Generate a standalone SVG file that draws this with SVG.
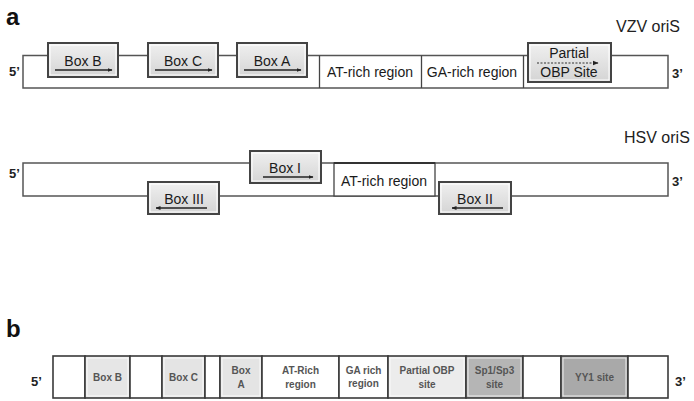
<svg xmlns="http://www.w3.org/2000/svg" width="694" height="401" viewBox="0 0 694 401">
<defs>
<linearGradient id="boxg" x1="0" y1="0" x2="0" y2="1">
<stop offset="0" stop-color="#f0f0f0"/>
<stop offset="1" stop-color="#d4d4d4"/>
</linearGradient>
<marker id="ah" viewBox="0 0 10 10" refX="9" refY="5" markerWidth="5" markerHeight="5" orient="auto-start-reverse" markerUnits="userSpaceOnUse">
<path d="M0,1 L10,5 L0,9 z" fill="#222"/>
</marker>
<marker id="ahs" viewBox="0 0 10 10" refX="9" refY="5" markerWidth="6" markerHeight="6" orient="auto" markerUnits="userSpaceOnUse">
<path d="M0,1 L10,5 L0,9 z" fill="#222"/>
</marker>
</defs>
<style>
.strip{fill:#fff;stroke:#555;stroke-width:1.5}
.box{fill:url(#boxg);stroke:#444;stroke-width:2}
.hl{fill:none;stroke:#fff;stroke-width:1}
.sh{fill:none;stroke:#999;stroke-width:1}
.t{font-family:"Liberation Sans",Arial,sans-serif;font-size:14px;fill:#1a1a1a;text-anchor:middle}
.lab{font-family:"Liberation Sans",Arial,sans-serif;font-size:16px;fill:#222}
.end{font-family:"Liberation Sans",Arial,sans-serif;font-size:13px;font-weight:bold;fill:#222}
.big{font-family:"Liberation Sans",Arial,sans-serif;font-size:24px;font-weight:bold;fill:#111}
.arr{stroke:#222;stroke-width:1.3;fill:none}
.cell{stroke:#3a3a3a;stroke-width:1.6}
.bev{fill:none;stroke:#fff;stroke-width:1;opacity:0.8}
.bt{font-family:"Liberation Sans",Arial,sans-serif;font-size:10px;font-weight:bold;fill:#555;text-anchor:middle}
</style>
<rect width="694" height="401" fill="#fff"/>

<!-- Panel labels -->
<text class="big" x="6" y="25">a</text>
<text class="big" x="6" y="337">b</text>

<!-- VZV oriS -->
<g id="vzv-strip">
<rect class="strip" x="23" y="55.5" width="645" height="32.5"/>
<text class="end" x="9" y="76">5’</text>
<text class="end" x="672" y="78">3’</text>
<text class="lab" x="616" y="32">VZV oriS</text>
</g>
<g id="vzv-boxB">
<rect class="box" x="48" y="43" width="70" height="34"/>
<rect class="hl" x="50" y="45" width="66" height="30"/>
<text class="t" x="83" y="66">Box B</text>
</g>
<g id="vzv-boxC">
<rect class="box" x="148" y="43" width="70" height="34"/>
<rect class="hl" x="150" y="45" width="66" height="30"/>
<text class="t" x="183" y="66">Box C</text>
</g>
<g id="vzv-boxA">
<rect class="box" x="237" y="43" width="70" height="34"/>
<rect class="hl" x="239" y="45" width="66" height="30"/>
<text class="t" x="272" y="66">Box A</text>
</g>
<g id="vzv-at">
<line x1="319.5" y1="55.5" x2="319.5" y2="88" stroke="#444" stroke-width="1.3"/>
<text class="t" x="370" y="77">AT-rich region</text>
</g>
<g id="vzv-ga">
<line x1="421.5" y1="55.5" x2="421.5" y2="88" stroke="#444" stroke-width="1.3"/>
<line x1="523.5" y1="55.5" x2="523.5" y2="88" stroke="#444" stroke-width="1.3"/>
<text class="t" x="472" y="77">GA-rich region</text>
</g>
<g id="vzv-obp">
<rect class="box" x="528" y="43" width="83" height="39"/>
<rect class="hl" x="530" y="45" width="79" height="35"/>
<text class="t" x="569" y="58">Partial</text>
<text class="t" x="569" y="77">OBP Site</text>
</g>

<!-- HSV oriS -->
<g id="hsv-strip">
<rect class="strip" x="23" y="163" width="645" height="33"/>
<text class="end" x="9" y="178">5’</text>
<text class="end" x="672" y="186">3’</text>
<text class="lab" x="624" y="143">HSV oriS</text>
</g>
<g id="hsv-at">
<rect x="334" y="163" width="101" height="33" fill="#fff" stroke="#444" stroke-width="1.3"/>
<line x1="334" y1="163" x2="435" y2="163" stroke="#333" stroke-width="2"/>
<text class="t" x="384" y="186">AT-rich region</text>
</g>
<g id="hsv-boxI">
<rect class="box" x="250" y="151" width="71" height="32"/>
<rect class="hl" x="252" y="153" width="67" height="28"/>
<text class="t" x="285" y="173">Box I</text>
</g>
<g id="hsv-boxIII">
<rect class="box" x="148" y="182" width="71" height="32"/>
<rect class="hl" x="150" y="184" width="67" height="28"/>
<text class="t" x="184" y="204">Box III</text>
</g>
<g id="hsv-boxII">
<rect class="box" x="439" y="182" width="72" height="32"/>
<rect class="hl" x="441" y="184" width="68" height="28"/>
<text class="t" x="475" y="204">Box II</text>
</g>

<!-- Direction arrows -->
<g id="connectors">
<line class="arr" x1="55" y1="70" x2="112" y2="70" marker-end="url(#ah)"/>
<line class="arr" x1="155" y1="70" x2="212" y2="70" marker-end="url(#ah)"/>
<line class="arr" x1="244" y1="70" x2="301" y2="70" marker-end="url(#ah)"/>
<line x1="537" y1="63" x2="598" y2="63" stroke="#333" stroke-width="1" stroke-dasharray="2,1.5" marker-end="url(#ahs)"/>
<line class="arr" x1="263" y1="177" x2="313" y2="177" marker-end="url(#ah)"/>
<line class="arr" x1="207" y1="208" x2="156" y2="208" marker-end="url(#ah)"/>
<line class="arr" x1="503" y1="208" x2="452" y2="208" marker-end="url(#ah)"/>
</g>

<!-- Panel b -->
<g id="b-ends">
<text class="end" x="31" y="386" font-size="14">5’</text>
<text class="end" x="675" y="386" font-size="14">3’</text>
</g>
<g id="b-c1"><rect class="cell" x="53" y="356" width="32" height="42" fill="#fff"/></g>
<g id="b-boxB"><rect class="cell" x="85" y="356" width="45" height="42" fill="#e6e6e6"/><rect class="bev" x="87" y="358" width="41" height="38"/><text class="bt" x="107.5" y="381">Box B</text></g>
<g id="b-c3"><rect class="cell" x="130" y="356" width="32" height="42" fill="#fff"/></g>
<g id="b-boxC"><rect class="cell" x="162" y="356" width="43" height="42" fill="#e4e4e4"/><rect class="bev" x="164" y="358" width="39" height="38"/><text class="bt" x="183.5" y="381">Box C</text></g>
<g id="b-c5"><rect class="cell" x="205" y="356" width="15" height="42" fill="#fff"/></g>
<g id="b-boxA"><rect class="cell" x="220" y="356" width="42" height="42" fill="#e4e4e4"/><rect class="bev" x="222" y="358" width="38" height="38"/><text class="bt" x="241" y="374">Box</text><text class="bt" x="241" y="388">A</text></g>
<g id="b-at"><rect class="cell" x="262" y="356" width="77" height="42" fill="#fff"/><text class="bt" x="300.5" y="374" fill="#333">AT-Rich</text><text class="bt" x="300.5" y="388" fill="#333">region</text></g>
<g id="b-ga"><rect class="cell" x="339" y="356" width="49" height="42" fill="#fff"/><text class="bt" x="363.5" y="374" fill="#333" font-size="9">GA rich</text><text class="bt" x="363.5" y="387" fill="#333" font-size="9">region</text></g>
<g id="b-obp"><rect class="cell" x="388" y="356" width="78" height="42" fill="#ececec"/><rect class="bev" x="390" y="358" width="74" height="38"/><text class="bt" x="427" y="374">Partial OBP</text><text class="bt" x="427" y="388">site</text></g>
<g id="b-sp"><rect class="cell" x="466" y="356" width="57" height="42" fill="#b5b5b5"/><rect class="bev" x="468" y="358" width="53" height="38" opacity="0.4"/><text class="bt" x="494.5" y="374">Sp1/Sp3</text><text class="bt" x="494.5" y="388">site</text></g>
<g id="b-c11"><rect class="cell" x="523" y="356" width="38" height="42" fill="#fff"/></g>
<g id="b-yy1"><rect class="cell" x="561" y="356" width="67" height="42" fill="#a9a9a9"/><rect class="bev" x="563" y="358" width="63" height="38" opacity="0.4"/><text class="bt" x="594.5" y="381">YY1 site</text></g>
<g id="b-c13"><rect class="cell" x="628" y="356" width="40" height="42" fill="#fff"/></g>
</svg>
